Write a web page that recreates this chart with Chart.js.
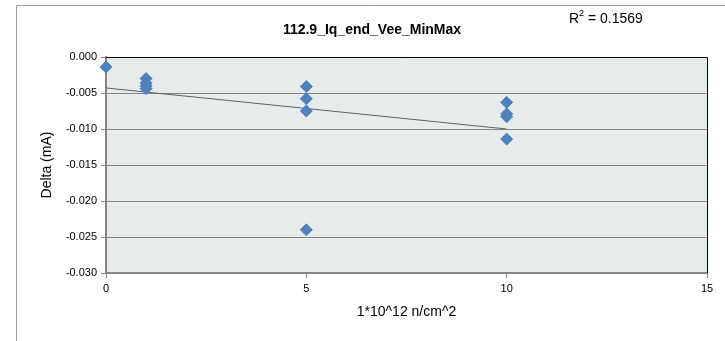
<!DOCTYPE html>
<html lang="en">
  <head>
    <meta charset="UTF-8" />
    <title>112.9_Iq_end_Vee_MinMax</title>
    <script src="https://cdn.jsdelivr.net/npm/chart.js"></script>
    <style>
      html, body { margin: 0; padding: 0; background: #fff; }
      #wrap { position: relative; width: 725px; height: 341px; }
    </style>
  </head>
  <body>
    <div id="wrap"><canvas id="chart"></canvas></div>
    <script>
      // values
      const fluence = [0, 1, 1, 1, 1, 5, 5, 5, 5, 10, 10, 10, 10];
      const delta = [-0.0014, -0.0030, -0.0036, -0.0040, -0.0044, -0.0041, -0.0058, -0.0075, -0.0240, -0.0063, -0.0079, -0.0083, -0.0114];
      // trendline end points as drawn
      const trendX = [0, 10];
      const trendY = [-0.0043, -0.0100];
      const chartTitle = "112.9_Iq_end_Vee_MinMax";
      const rSquared = "0.1569";

      const fontFam = "'Liberation Sans', Arial, sans-serif";

      const decor = {
        id: "decor",
        beforeDraw(chart) {
          const { ctx, chartArea: a } = chart;
          ctx.save();
          ctx.fillStyle = "#E6ECEC";
          ctx.fillRect(a.left, a.top, a.right - a.left, a.bottom - a.top);
          // outer frame (cut off at the right and bottom)
          ctx.strokeStyle = "#9a9a9a";
          ctx.lineWidth = 1;
          ctx.beginPath();
          ctx.moveTo(16.5, 345);
          ctx.lineTo(16.5, 5.5);
          ctx.lineTo(730, 5.5);
          ctx.stroke();
          ctx.restore();
        },
        afterDraw(chart) {
          const { ctx, chartArea: a } = chart;
          ctx.save();
          ctx.strokeStyle = "#000";
          ctx.lineWidth = 1;
          ctx.beginPath();
          ctx.moveTo(a.left, a.top + 0.5);
          ctx.lineTo(a.right + 0.5, a.top + 0.5);
          ctx.lineTo(a.right + 0.5, a.bottom);
          ctx.stroke();
          ctx.fillStyle = "#000";
          ctx.textAlign = "center";
          ctx.textBaseline = "middle";
          ctx.font = "bold 14px " + fontFam;
          ctx.fillText(chartTitle, 372, 30);
          ctx.textAlign = "left";
          ctx.font = "14px " + fontFam;
          ctx.fillText("R", 569, 19);
          ctx.font = "9px " + fontFam;
          ctx.fillText("2", 579, 14);
          ctx.font = "14px " + fontFam;
          ctx.fillText(" = " + rSquared, 584, 19);
          ctx.restore();
        },
      };

      new Chart(document.getElementById("chart"), {
        type: "scatter",
        data: {
          datasets: [
            {
              label: "Delta",
              data: fluence.map((x, i) => ({ x: x, y: delta[i] })),
              pointStyle: "rectRot",
              pointRadius: 6,
              pointHoverRadius: 6,
              pointBackgroundColor: "#4F81BD",
              pointBorderColor: "#4F81BD",
              pointBorderWidth: 1,
              clip: false,
            },
            {
              label: "Trend",
              data: trendX.map((x, i) => ({ x: x, y: trendY[i] })),
              showLine: true,
              borderColor: "#606060",
              borderWidth: 1,
              pointRadius: 0,
              pointHoverRadius: 0,
            },
          ],
        },
        options: {
          responsive: true,
          maintainAspectRatio: false,
          animation: false,
          layout: { padding: { left: 0, right: 18, top: 57, bottom: 0 } },
          plugins: {
            legend: { display: false },
            title: { display: false },
            tooltip: { enabled: false },
          },
          scales: {
            x: {
              type: "linear",
              min: 0,
              max: 15,
              ticks: {
                stepSize: 5,
                color: "#000",
                font: { family: fontFam, size: 11 },
                padding: 4,
              },
              grid: {
                drawOnChartArea: false,
                drawTicks: true,
                tickLength: 5,
                color: "#868686",
              },
              border: { color: "#868686", width: 2 },
              title: {
                display: true,
                text: "1*10^12 n/cm^2",
                color: "#000",
                font: { family: fontFam, size: 14 },
                padding: { top: 6, bottom: 20 },
              },
              afterFit(scale) {
                scale.height = 68;
              },
            },
            y: {
              min: -0.03,
              max: 0,
              ticks: {
                stepSize: 0.005,
                color: "#000",
                font: { family: fontFam, size: 11 },
                padding: 4,
                callback: (v) => Number(v).toFixed(3),
              },
              grid: {
                color: "#868686",
                lineWidth: 1,
                drawTicks: true,
                tickLength: 5,
              },
              border: { color: "#868686", width: 2 },
              title: {
                display: true,
                text: "Delta (mA)",
                color: "#000",
                font: { family: fontFam, size: 14 },
                padding: { top: 39, bottom: 4 },
              },
              afterFit(scale) {
                scale.width = 106;
              },
            },
          },
        },
        plugins: [decor],
      });
    </script>
  </body>
</html>
